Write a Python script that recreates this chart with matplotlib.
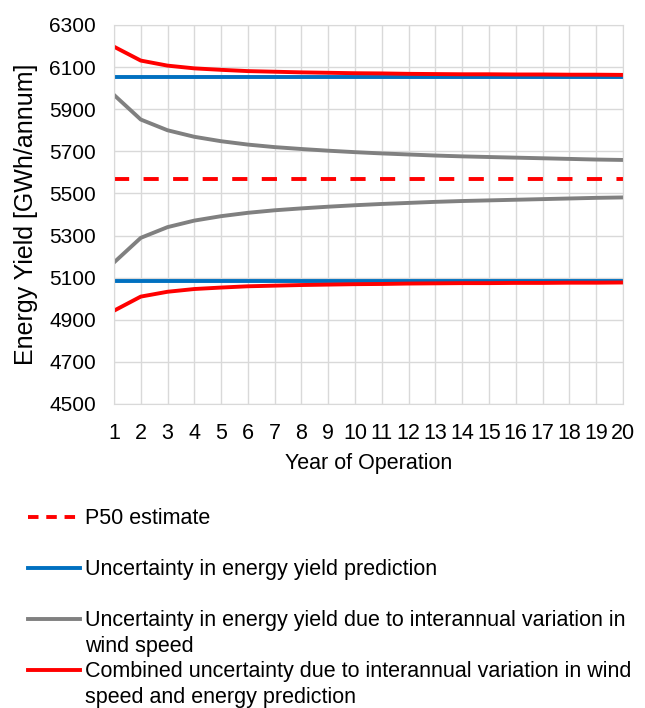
import matplotlib.pyplot as plt
from matplotlib.lines import Line2D
import numpy as np

plt.rcParams['font.family'] = ['Liberation Sans', 'DejaVu Sans']

# values
years = list(range(1, 21))
p50 = [5570] * 20
pred_upper = [6055] * 20
pred_lower = [5085] * 20
iav_upper = [5968, 5851, 5800, 5769, 5748, 5732, 5720, 5711, 5703, 5696,
             5690, 5685, 5680, 5676, 5673, 5670, 5667, 5664, 5661, 5659]
iav_lower = [5172, 5289, 5340, 5371, 5392, 5408, 5420, 5429, 5437, 5444,
             5450, 5455, 5460, 5464, 5467, 5470, 5473, 5476, 5479, 5481]
comb_upper = [6197, 6131, 6107, 6094, 6087, 6081, 6078, 6075, 6073, 6071,
              6070, 6068, 6067, 6066, 6066, 6065, 6065, 6064, 6064, 6063]
comb_lower = [4943, 5010, 5033, 5046, 5053, 5059, 5062, 5065, 5067, 5069,
              5070, 5072, 5073, 5074, 5074, 5075, 5075, 5076, 5076, 5077]

red = '#FF0000'
blue = '#0070C0'
grey = '#808080'
lw = 2.8

fig = plt.figure(figsize=(6.45, 7.08), dpi=100)
ax = fig.add_axes([0.1767, 0.4294, 0.789, 0.5353])

ax.plot(years, pred_upper, color=blue, lw=lw, solid_capstyle='butt')
ax.plot(years, pred_lower, color=blue, lw=lw, solid_capstyle='butt')
ax.plot(years, iav_upper, color=grey, lw=lw)
ax.plot(years, iav_lower, color=grey, lw=lw)
ax.plot(years, comb_upper, color=red, lw=lw)
ax.plot(years, comb_lower, color=red, lw=lw)
ax.plot(years, p50, color=red, lw=lw, dashes=(3.9, 3.7), dash_capstyle='butt')

ax.set_xlim(1, 20)
ax.set_ylim(4500, 6300)
ax.set_xticks(years)
ax.set_yticks(np.arange(4500, 6301, 200))
ax.grid(True, color='#d9d9d9', lw=1.0)
ax.set_axisbelow(True)
for s in ax.spines.values():
    s.set_color('#d9d9d9')
ax.tick_params(axis='y', length=0, labelsize=15, pad=13)
ax.tick_params(axis='x', length=0, labelsize=15.5, pad=14)
ax.set_xlabel('Year of Operation', fontsize=15.5, labelpad=6)
ax.set_ylabel('Energy Yield [GWh/annum]', fontsize=18, labelpad=8)

# legend rows: entries with blank spacer rows / continuation rows
blank = Line2D([], [], color='none')
handles = [
    Line2D([], [], color=red, lw=lw, dashes=(2.7, 2.0)),
    blank,
    Line2D([], [], color=blue, lw=lw),
    blank,
    Line2D([], [], color=grey, lw=lw),
    blank,
    Line2D([], [], color=red, lw=lw),
    blank,
]
labels = [
    'P50 estimate',
    ' ',
    'Uncertainty in energy yield prediction',
    ' ',
    'Uncertainty in energy yield due to interannual variation in',
    'wind speed',
    'Combined uncertainty due to interannual variation in wind',
    'speed and energy prediction',
]
fig.legend(handles, labels, loc='upper left', bbox_to_anchor=(0.043, 0.282),
           frameon=False, fontsize=15.5, handlelength=2.45, handletextpad=0.22,
           labelspacing=0.21, borderpad=0, borderaxespad=0)

fig.savefig('out.png', dpi=100)
